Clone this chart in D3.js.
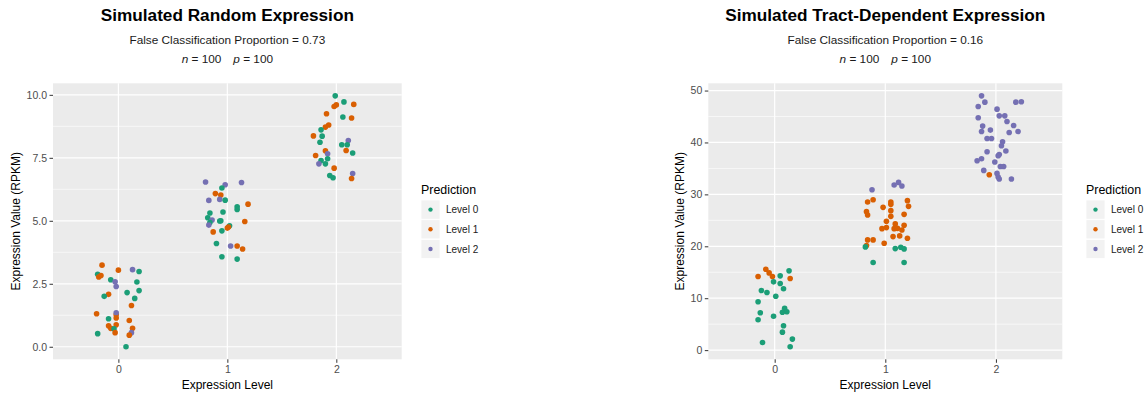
<!DOCTYPE html>
<html>
<head>
<meta charset="utf-8">
<script src="https://cdn.jsdelivr.net/npm/d3@7"></script>
<style>
  body { margin: 0; background: #fff; }
  svg { display: block; font-family: "Liberation Sans", Arial, Helvetica, sans-serif; }
</style>
</head>
<body>
<svg id="chart" width="1147" height="394"></svg>
<script>
// prediction classes and their colours (Dark2)
var levels = ["Level 0", "Level 1", "Level 2"];
var levelColors = ["#1B9E77", "#D95F02", "#7570B3"];
var xTicks = [0, 1, 2];

// left panel: random expression (x = level + jitter, y = RPKM, pred = predicted level)
var randomYTicks = [0, 2.5, 5, 7.5, 10];
var randomX = [
  -0.15, 0.00, 0.13, 0.19, -0.19, -0.18, -0.16, -0.07, -0.03, 0.17, -0.02, 0.19, 0.08, -0.09, -0.13, 0.15, 0.12,
  -0.20, -0.02, -0.02, -0.02, -0.09, 0.10, -0.02, -0.09, -0.07, -0.04, 0.13, 0.12, 0.10, -0.03, -0.19, 0.07,
  0.80, 0.98, 1.13, 0.95, 0.89, 0.94, 0.83, 0.93, 0.98, 1.09, 1.19, 1.09, 0.84, 0.96, 0.82, 0.86,
  0.93, 0.94, 0.84, 0.83, 1.16, 1.02, 1.00, 1.01, 0.95, 0.87, 0.90, 1.03, 1.09, 1.14, 0.95, 1.09,
  1.99, 2.07, 1.98, 2.00, 2.16, 1.91, 2.06, 2.14, 1.93, 1.90, 1.86, 1.79, 1.87, 1.85, 2.11, 2.05,
  2.10, 2.09, 2.15, 1.90, 1.92, 1.81, 1.86, 1.92, 1.84, 1.90, 1.98, 2.15, 1.94, 1.97, 2.14
];
var randomY = [
  3.24, 3.04, 3.06, 2.99, 2.88, 2.77, 2.83, 2.66, 2.58, 2.57, 2.39, 2.23, 2.15, 2.08, 2.00, 1.92, 1.64,
  1.31, 1.27, 1.35, 1.14, 1.11, 1.04, 0.87, 0.83, 0.73, 0.71, 0.73, 0.56, 0.46, 0.56, 0.52, 0.00,
  6.54, 6.43, 6.52, 6.30, 6.08, 6.02, 5.81, 5.85, 5.82, 5.56, 5.66, 5.45, 5.31, 5.35, 5.12, 5.03,
  4.99, 5.00, 4.93, 4.83, 4.97, 4.80, 4.71, 4.75, 4.60, 4.56, 4.10, 4.00, 4.00, 3.88, 3.57, 3.48,
  9.96, 9.72, 9.54, 9.60, 9.62, 9.25, 9.12, 9.08, 8.80, 8.72, 8.61, 8.37, 8.36, 8.12, 8.19, 8.02,
  8.02, 7.79, 7.69, 7.78, 7.66, 7.59, 7.39, 7.46, 7.26, 7.26, 7.09, 6.88, 6.80, 6.71, 6.68
];
var randomPred = [
  1, 1, 2, 0, 0, 1, 1, 0, 2, 0, 2, 0, 0, 1, 0, 0, 1,
  1, 1, 2, 1, 0, 1, 1, 1, 1, 0, 1, 2, 1, 1, 0, 0,
  2, 2, 2, 0, 1, 1, 2, 2, 0, 0, 1, 0, 0, 0, 0, 2,
  0, 0, 0, 2, 1, 0, 1, 1, 0, 1, 0, 2, 1, 1, 0, 0,
  0, 0, 1, 1, 1, 1, 0, 1, 1, 1, 0, 1, 0, 0, 2, 0,
  0, 1, 0, 1, 2, 1, 0, 0, 2, 0, 1, 2, 0, 0, 1
];

// right panel: tract-dependent expression
var tractYTicks = [0, 10, 20, 30, 40, 50];
var tractX = [
  -0.08, -0.05, -0.02, -0.15, 0.13, 0.05, 0.14, -0.01, 0.05, 0.08, -0.12, -0.07, 0.01,
  -0.15, 0.09, 0.07, 0.11, -0.13, -0.01, -0.15, 0.08, 0.07, 0.16, -0.11, 0.14,
  0.88, 1.08, 1.12, 1.15, 0.84, 0.89, 1.05, 1.05, 1.20, 1.21, 0.98, 1.05, 0.83, 0.84, 1.17, 1.05, 1.01, 1.09, 1.17,
  0.97, 1.01, 1.08, 1.11, 1.15, 1.07, 1.13, 1.20, 0.84, 0.89, 0.99, 0.83, 0.82, 1.09, 1.14, 1.17, 0.89, 1.17,
  1.87, 1.90, 1.84, 2.18, 2.23, 2.01, 2.03, 2.08, 1.84, 2.10, 1.88, 2.16, 1.95, 1.87, 2.12, 2.20, 1.92, 1.96,
  2.06, 2.05, 2.09, 1.92, 2.03, 2.02, 1.87, 1.83, 1.99, 2.04, 2.07, 1.89, 1.94, 2.01, 2.02, 2.03, 2.14
];
var tractY = [
  15.58, 14.88, 14.17, 14.17, 15.27, 14.31, 13.79, 13.15, 12.83, 11.81, 11.48, 11.10, 10.38,
  9.31, 8.08, 7.31, 7.38, 7.19, 6.54, 5.85, 4.69, 3.46, 2.12, 1.48, 0.65,
  30.90, 31.81, 32.31, 31.62, 28.54, 28.98, 28.54, 28.08, 28.79, 27.69, 27.50, 26.87, 26.67, 26.04, 26.15, 25.77, 24.81, 24.31, 24.04,
  23.40, 23.60, 23.40, 23.46, 23.15, 21.87, 22.00, 21.54, 21.23, 21.23, 20.58, 20.13, 19.88, 19.56, 19.81, 19.50, 16.87, 16.87,
  48.98, 47.77, 46.92, 47.77, 47.83, 46.42, 45.13, 45.13, 44.75, 44.04, 43.15, 43.27, 42.38, 42.12, 41.92, 42.12, 40.77, 40.77,
  40.13, 39.37, 38.35, 38.21, 37.69, 37.44, 36.87, 36.48, 36.23, 35.38, 35.38, 34.62, 33.79, 34.04, 33.35, 32.96, 32.96
];
var tractPred = [
  1, 1, 1, 1, 0, 0, 1, 0, 0, 0, 0, 0, 0,
  0, 0, 0, 0, 0, 0, 0, 0, 0, 0, 0, 0,
  2, 2, 2, 2, 1, 1, 1, 1, 1, 1, 1, 1, 1, 1, 1, 1, 1, 1, 1,
  1, 1, 1, 1, 1, 1, 1, 1, 1, 1, 1, 1, 0, 0, 0, 0, 0, 0,
  2, 2, 2, 2, 2, 2, 2, 2, 2, 2, 2, 2, 2, 2, 2, 2, 2, 2,
  2, 2, 2, 2, 2, 2, 2, 2, 2, 2, 2, 2, 1, 2, 2, 2, 2
];

var svg = d3.select("#chart");

function drawPanel(cfg) {
  var g = svg.append("g");
  var top = 83.3, bottom = 359.3;

  var points = cfg.xs.map((x, i) => ({ x: x, y: cfg.ys[i], pred: cfg.preds[i] }));

  // discrete x scale with ggplot's 0.6 expansion, continuous y with 5%
  var xScale = d3.scaleLinear()
                 .domain([-0.6, 2.6])
                 .range([cfg.left, cfg.right]);
  var yExt = d3.extent(cfg.ys);
  var pad = (yExt[1] - yExt[0]) * 0.05;
  var yScale = d3.scaleLinear()
                 .domain([yExt[0] - pad, yExt[1] + pad])
                 .range([bottom, top]);

  g.append("rect")
    .attr("x", cfg.left)
    .attr("y", top)
    .attr("width", cfg.right - cfg.left)
    .attr("height", bottom - top)
    .attr("fill", "#EBEBEB");

  var minor = d3.pairs(cfg.yTicks).map(p => (p[0] + p[1]) / 2);
  g.selectAll(".minor")
    .data(minor)
    .enter().append("line")
      .attr("x1", cfg.left).attr("x2", cfg.right)
      .attr("y1", d => yScale(d)).attr("y2", d => yScale(d))
      .attr("stroke", "#fff").attr("stroke-width", 0.6);

  g.selectAll(".hmajor")
    .data(cfg.yTicks)
    .enter().append("line")
      .attr("x1", cfg.left).attr("x2", cfg.right)
      .attr("y1", d => yScale(d)).attr("y2", d => yScale(d))
      .attr("stroke", "#fff").attr("stroke-width", 1.2);

  g.selectAll(".vmajor")
    .data(xTicks)
    .enter().append("line")
      .attr("y1", top).attr("y2", bottom)
      .attr("x1", d => xScale(d)).attr("x2", d => xScale(d))
      .attr("stroke", "#fff").attr("stroke-width", 1.2);

  g.selectAll("circle")
    .data(points)
    .enter().append("circle")
      .attr("cx", d => xScale(d.x))
      .attr("cy", d => yScale(d.y))
      .attr("r", 2.8)
      .attr("fill", d => levelColors[d.pred]);

  // axes
  var xAxis = d3.axisBottom(xScale).tickValues(xTicks).tickFormat(d3.format("d"))
                .tickSize(3.5).tickPadding(2.5);
  var yAxis = d3.axisLeft(yScale).tickValues(cfg.yTicks).tickFormat(cfg.yFormat)
                .tickSize(3.5).tickPadding(2.5);

  var gx = g.append("g")
    .attr("transform", "translate(0," + bottom + ")")
    .call(xAxis);
  var gy = g.append("g")
    .attr("transform", "translate(" + cfg.left + ",0)")
    .call(yAxis);

  [gx, gy].forEach(a => {
    a.select(".domain").remove();
    a.selectAll("line").attr("stroke", "#333");
    a.selectAll("text")
      .attr("fill", "#4D4D4D")
      .attr("font-size", "10.5px")
      .attr("font-family", "Liberation Sans, Arial, sans-serif");
  });

  var cx = (cfg.left + cfg.right) / 2;

  g.append("text")
    .attr("x", cx).attr("y", 389)
    .attr("text-anchor", "middle")
    .attr("font-size", "12px")
    .text("Expression Level");

  g.append("text")
    .attr("transform", "rotate(-90)")
    .attr("x", -(top + bottom) / 2)
    .attr("y", cfg.yTitleX)
    .attr("text-anchor", "middle")
    .attr("font-size", "12px")
    .text("Expression Value (RPKM)");

  // titles
  g.append("text")
    .attr("x", cx).attr("y", 21)
    .attr("text-anchor", "middle")
    .attr("font-size", "17.2px")
    .attr("font-weight", "bold")
    .text(cfg.title);

  g.append("text")
    .attr("x", cx).attr("y", 43.5)
    .attr("text-anchor", "middle")
    .attr("font-size", "11.8px")
    .attr("fill", "#1a1a1a")
    .text("False Classification Proportion = " + cfg.fcp);

  var sub = g.append("text")
    .attr("x", cx).attr("y", 63)
    .attr("text-anchor", "middle")
    .attr("font-size", "11.8px")
    .attr("fill", "#1a1a1a");
  sub.append("tspan").attr("font-style", "italic").text("n");
  sub.append("tspan").text("\u00a0=\u00a0100");
  sub.append("tspan").attr("dx", 12).attr("font-style", "italic").text("p");
  sub.append("tspan").text("\u00a0=\u00a0100");

  // legend
  var lg = g.append("g").attr("transform", "translate(" + cfg.legendX + ",0)");
  lg.append("text")
    .attr("x", 0).attr("y", 194)
    .attr("font-size", "12.4px")
    .text("Prediction");

  var keys = lg.selectAll(".key")
    .data(levels)
    .enter().append("g")
      .attr("transform", (d, i) => "translate(0," + (200 + i * 19.7) + ")");
  keys.append("rect")
    .attr("width", 19).attr("height", 19.2)
    .attr("fill", "#F2F2F2")
    .attr("stroke", "#fff").attr("stroke-width", 0.8);
  keys.append("circle")
    .attr("cx", 9.5).attr("cy", 9.6).attr("r", 2.2)
    .attr("fill", (d, i) => levelColors[i]);
  keys.append("text")
    .attr("x", 25).attr("y", 13.3)
    .attr("font-size", "10px")
    .attr("fill", "#1a1a1a")
    .text(d => d);
}

drawPanel({
  left: 53, right: 401.7,
  xs: randomX, ys: randomY, preds: randomPred,
  yTicks: randomYTicks, yFormat: d3.format(".1f"),
  yTitleX: 20,
  title: "Simulated Random Expression", fcp: "0.73",
  legendX: 421
});

drawPanel({
  left: 708.3, right: 1062.3,
  xs: tractX, ys: tractY, preds: tractPred,
  yTicks: tractYTicks, yFormat: d3.format("d"),
  yTitleX: 684,
  title: "Simulated Tract-Dependent Expression", fcp: "0.16",
  legendX: 1086
});
</script>
</body>
</html>
